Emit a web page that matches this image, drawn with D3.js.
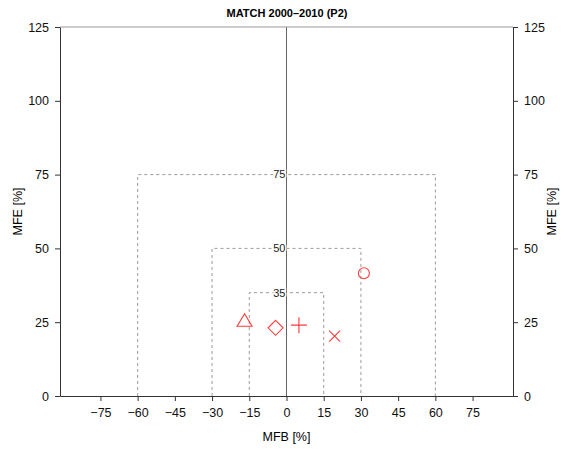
<!DOCTYPE html>
<html><head><meta charset="utf-8">
<script src="https://cdn.jsdelivr.net/npm/d3@7"></script>
<style>body{margin:0;background:#fff}text{font-family:"Liberation Sans",Arial,sans-serif}</style>
</head><body>
<script>
const title = "MATCH 2000\u20132010 (P2)";
const xTicks = [-75,-60,-45,-30,-15,0,15,30,45,60,75];
const yTicks = [0,25,50,75,100,125];
const goalBoxes = [75,50,35];            // MFE goal levels
const goalHalfWidths = [60,30,15];       // matching MFB limits
const markerNames = ["triangle","diamond","plus","cross","circle"];
const mfb = [-16.9,-4.4,5.0,19.4,31.2];
const mfe = [25.3,23.1,24.0,20.3,41.6];

const W=568,H=449;
const svg=d3.select("body").append("svg").attr("width",W).attr("height",H);
const x=d3.scaleLinear().domain([-91.3,91.3]).range([60,513]);
const y=d3.scaleLinear().domain([0,125]).range([396,27]);
const axCol="#333";
const fmt=d=>d<0?"\u2212"+Math.abs(d):String(d);

// dashed goal boxes
goalBoxes.forEach((g,i)=>{
  const hw=goalHalfWidths[i];
  svg.append("path")
    .attr("d",`M${x(-hw)},${y(0)}V${y(g)}H${x(hw)}V${y(0)}`)
    .attr("fill","none").attr("stroke","#9a9a9a").attr("stroke-width",1).attr("stroke-dasharray","3,3");
});
// zero line
svg.append("line").attr("x1",x(0)).attr("x2",x(0)).attr("y1",y(0)).attr("y2",y(125)).attr("stroke","#666");
// top frame line
svg.append("line").attr("x1",x.range()[0]).attr("x2",x.range()[1]).attr("y1",y(125)).attr("y2",y(125)).attr("stroke","#999");
// box labels
goalBoxes.forEach(g=>{
  svg.append("text").attr("x",x(0)-1).attr("y",y(g)).attr("dy","0.35em").attr("text-anchor","end")
    .attr("font-size",11).attr("fill","#222").attr("stroke","#fff").attr("stroke-width",3).attr("paint-order","stroke").text(g);
});

// axes
const styleAxis=g=>{g.selectAll("path,line").attr("stroke",axCol);g.selectAll("text").attr("font-size",12.5).attr("fill","#111").attr("font-family",'"Liberation Sans",Arial,sans-serif');};
svg.append("g").attr("transform",`translate(0,${y(0)})`)
  .call(d3.axisBottom(x).tickValues(xTicks).tickFormat(fmt).tickSize(5).tickSizeOuter(0).tickPadding(7))
  .call(styleAxis);
svg.append("g").attr("transform",`translate(${x.range()[0]},0)`)
  .call(d3.axisLeft(y).tickValues(yTicks).tickSize(5).tickSizeOuter(0).tickPadding(6))
  .call(styleAxis);
svg.append("g").attr("transform",`translate(${x.range()[1]},0)`)
  .call(d3.axisRight(y).tickValues(yTicks).tickSize(5).tickSizeOuter(0).tickPadding(6))
  .call(styleAxis);

// titles
svg.append("text").attr("x",287).attr("y",17).attr("text-anchor","middle").attr("font-size",11).attr("font-weight","bold").text(title);
svg.append("text").attr("x",x(0)).attr("y",441).attr("text-anchor","middle").attr("font-size",12.5).text("MFB [%]");
svg.append("text").attr("transform",`translate(22,${y(62.5)}) rotate(-90)`).attr("text-anchor","middle").attr("font-size",12.5).text("MFE [%]");
svg.append("text").attr("transform",`translate(556,${y(62.5)}) rotate(-90)`).attr("text-anchor","middle").attr("font-size",12.5).text("MFE [%]");

// markers
const red="#ff3b3b";
const g=svg.append("g").attr("fill","none").attr("stroke",red).attr("stroke-width",1.1);
markerNames.forEach((m,i)=>{
  const cx=x(mfb[i]),cy=y(mfe[i]);
  if(m==="triangle") g.append("path").attr("d",`M${cx},${cy-7.5}L${cx+7.5},${cy+5}L${cx-7.5},${cy+5}Z`);
  else if(m==="diamond") g.append("path").attr("d",`M${cx},${cy-7.5}L${cx+7.5},${cy}L${cx},${cy+7.5}L${cx-7.5},${cy}Z`);
  else if(m==="plus") g.append("path").attr("d",`M${cx-8},${cy}H${cx+8}M${cx},${cy-8}V${cy+8}`);
  else if(m==="cross") g.append("path").attr("d",`M${cx-5.5},${cy-5.5}L${cx+5.5},${cy+5.5}M${cx+5.5},${cy-5.5}L${cx-5.5},${cy+5.5}`);
  else if(m==="circle") g.append("circle").attr("cx",cx).attr("cy",cy).attr("r",5.5);
});
</script>
</body></html>
